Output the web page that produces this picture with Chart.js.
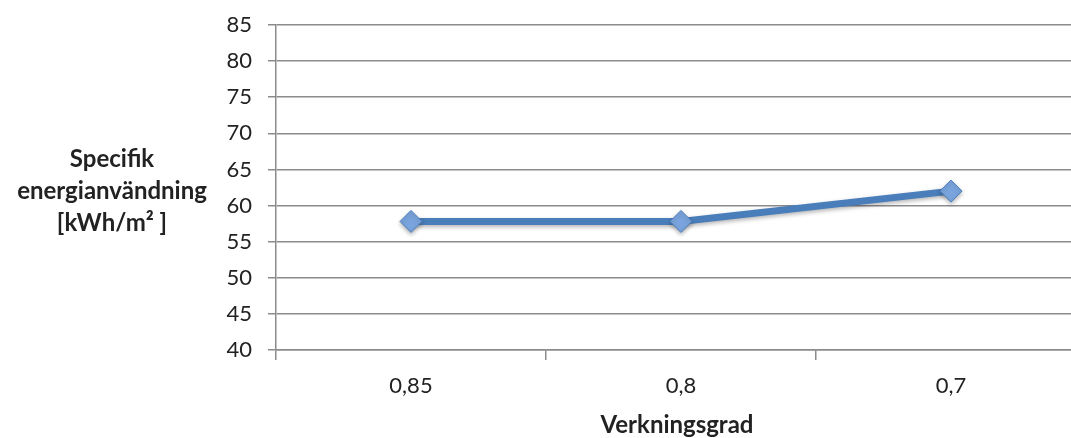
<!DOCTYPE html>
<html>
<head>
<meta charset="utf-8">
<script src="https://cdn.jsdelivr.net/npm/chart.js@4.4.0/dist/chart.umd.min.js"></script>
<style>
    html, body { margin: 0; padding: 0; background: #fff; overflow: hidden; }
    #wrap { position: relative; width: 1098px; height: 438px; }
</style>
</head>
<body>
<div id="wrap"><canvas id="chart"></canvas></div>
<script>
const categories = ["0,85", "0,8", "0,7"];
const energyValues = [57.8, 57.8, 62];
const yTicks = [40, 45, 50, 55, 60, 65, 70, 75, 80, 85];
const yTitleLines = ["Specifik", "energianvändning", "[kWh/m² ]"];
const xTitle = "Verkningsgrad";

const FONT = "Lato, 'Open Sans', sans-serif";
const TEXT = "#222222";
const GRID = "#8c8c8c";

// axis titles drawn by hand so the y title stays horizontal
const axisTitles = {
    id: "axisTitles",
    afterDraw(chart) {
        const ctx = chart.ctx;
        ctx.save();
        ctx.fillStyle = TEXT;
        ctx.textAlign = "center";
        ctx.textBaseline = "middle";
        ctx.font = "bold 24px " + FONT;
        yTitleLines.forEach((line, i) => {
            ctx.fillText(line, 112, 159 + i * 32);
        });
        ctx.fillText(xTitle, 677, 425);
        ctx.restore();
    }
};

const shadow = {
    id: "shadow",
    beforeDatasetsDraw(chart) {
        const ctx = chart.ctx;
        ctx.save();
        ctx.shadowColor = "rgba(0,0,0,0.3)";
        ctx.shadowBlur = 4;
        ctx.shadowOffsetY = 2;
    },
    afterDatasetsDraw(chart) {
        chart.ctx.restore();
    }
};

new Chart(document.getElementById("chart"), {
    type: "line",
    data: {
        labels: categories,
        datasets: [{
            data: energyValues,
            borderColor: "#4a7ebb",
            borderWidth: 7,
            pointStyle: "rectRot",
            pointRadius: 11,
            pointHoverRadius: 11,
            pointBackgroundColor: "#7aa4dd",
            pointBorderColor: "#4a7ebb",
            pointBorderWidth: 1,
            tension: 0
        }]
    },
    options: {
        responsive: true,
        maintainAspectRatio: false,
        animation: false,
        layout: { padding: { top: 25, right: 4, left: 0, bottom: 0 } },
        plugins: {
            legend: { display: false },
            tooltip: { enabled: false }
        },
        scales: {
            x: {
                offset: true,
                grid: {
                    offset: true,
                    drawOnChartArea: false,
                    drawTicks: true,
                    tickLength: 10,
                    color: GRID,
                    lineWidth: 1.5
                },
                border: { color: GRID, width: 1.5 },
                ticks: { color: TEXT, font: { family: FONT, size: 22 }, padding: 13 },
                afterFit(scale) {
                    scale.height = 88;
                    scale.paddingLeft = 0;
                    scale.paddingRight = 0;
                }
            },
            y: {
                min: 40,
                max: 85,
                afterBuildTicks(scale) {
                    scale.ticks = yTicks.map(v => ({ value: v }));
                },
                grid: { color: GRID, lineWidth: 1.5, tickLength: 8 },
                border: { color: GRID, width: 1.5 },
                ticks: { color: TEXT, font: { family: FONT, size: 22 }, padding: 16 },
                afterFit(scale) {
                    scale.width = 276;
                    scale.paddingTop = 0;
                    scale.paddingBottom = 0;
                }
            }
        }
    },
    plugins: [axisTitles, shadow]
});
</script>
</body>
</html>
